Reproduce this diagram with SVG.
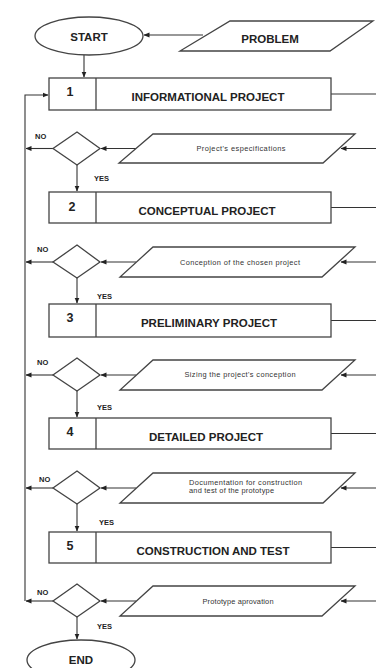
<svg xmlns="http://www.w3.org/2000/svg" width="376" height="668" viewBox="0 0 376 668">
<style>
.s{fill:#fff;stroke:#444;stroke-width:1.3}
.c{fill:none;stroke:#333;stroke-width:1.1}
.b{font-family:"Liberation Sans",Arial,sans-serif;font-weight:bold;fill:#222}
.t{font-family:"Liberation Sans",Arial,sans-serif;fill:#333;font-size:7.4px}
.lb{font-size:11.5px;text-anchor:middle}
.nm{font-size:12.5px;text-anchor:middle}
.sm{font-size:7.5px}
</style>
<defs>
<marker id="a" markerWidth="6" markerHeight="6" refX="5.5" refY="3" orient="auto" markerUnits="userSpaceOnUse">
<path d="M0,0.5 L6,3 L0,5.5 Z" fill="#222"/>
</marker>
</defs>
<rect width="376" height="668" fill="#fff"/>
<g id="connectors">
<line class="c" x1="203" y1="35" x2="144" y2="35" marker-end="url(#a)"/>
<line class="c" x1="84" y1="55" x2="84" y2="77" marker-end="url(#a)"/>
<polyline class="c" points="25,601 25,95 48,95" marker-end="url(#a)"/>
<line class="c" x1="331" y1="94" x2="376" y2="94"/>
<line class="c" x1="331" y1="207.5" x2="376" y2="207.5"/>
<line class="c" x1="331" y1="320.5" x2="376" y2="320.5"/>
<line class="c" x1="331" y1="433.5" x2="376" y2="433.5"/>
<line class="c" x1="331" y1="547.5" x2="376" y2="547.5"/>
<line class="c" x1="376" y1="148.5" x2="341" y2="148.5" marker-end="url(#a)"/>
<line class="c" x1="136" y1="148.5" x2="101" y2="148.5" marker-end="url(#a)"/>
<line class="c" x1="53" y1="148.5" x2="26" y2="148.5" marker-end="url(#a)"/>
<line class="c" x1="77" y1="165" x2="77" y2="191" marker-end="url(#a)"/>
<line class="c" x1="376" y1="262" x2="341" y2="262" marker-end="url(#a)"/>
<line class="c" x1="136" y1="262" x2="101" y2="262" marker-end="url(#a)"/>
<line class="c" x1="53" y1="262" x2="26" y2="262" marker-end="url(#a)"/>
<line class="c" x1="77" y1="278" x2="77" y2="303" marker-end="url(#a)"/>
<line class="c" x1="376" y1="375" x2="341" y2="375" marker-end="url(#a)"/>
<line class="c" x1="136" y1="375" x2="101" y2="375" marker-end="url(#a)"/>
<line class="c" x1="53" y1="375" x2="26" y2="375" marker-end="url(#a)"/>
<line class="c" x1="77" y1="391" x2="77" y2="417" marker-end="url(#a)"/>
<line class="c" x1="376" y1="488" x2="341" y2="488" marker-end="url(#a)"/>
<line class="c" x1="136" y1="488" x2="101" y2="488" marker-end="url(#a)"/>
<line class="c" x1="53" y1="488" x2="26" y2="488" marker-end="url(#a)"/>
<line class="c" x1="77" y1="504" x2="77" y2="531" marker-end="url(#a)"/>
<line class="c" x1="376" y1="601" x2="341" y2="601" marker-end="url(#a)"/>
<line class="c" x1="136" y1="601" x2="101" y2="601" marker-end="url(#a)"/>
<line class="c" x1="53" y1="601" x2="26" y2="601" marker-end="url(#a)"/>
<line class="c" x1="77" y1="617" x2="77" y2="639" marker-end="url(#a)"/>
</g>
<g id="start">
<ellipse class="s" cx="89" cy="36" rx="54" ry="19"/>
<text class="b lb" x="89" y="41" font-size="11">START</text>
</g>
<g id="problem">
<polygon class="s" points="230,21 373,21 330,51 180,51"/>
<text class="b lb" x="270" y="43">PROBLEM</text>
</g>
<g id="step1">
<rect class="s" x="49" y="78" width="282" height="32"/>
<line class="s" x1="96" y1="78" x2="96" y2="110"/>
<text class="b nm" x="70" y="96">1</text>
<text class="b lb" x="208" y="101">INFORMATIONAL PROJECT</text>
</g>
<g id="decision1">
<polygon class="s" points="77,132 100,148.5 77,165 53,148.5"/>
<text class="b sm" x="35" y="139">NO</text>
<text class="b sm" x="94" y="181">YES</text>
</g>
<g id="input1">
<polygon class="s" points="153,134 355,134 323,163 119,163"/>
<text class="t" x="241" y="151" text-anchor="middle" textLength="89">Project's especifications</text>
</g>
<g id="step2">
<rect class="s" x="49" y="192" width="282" height="31"/>
<line class="s" x1="96" y1="192" x2="96" y2="223"/>
<text class="b nm" x="72" y="211">2</text>
<text class="b lb" x="207" y="215">CONCEPTUAL PROJECT</text>
</g>
<g id="decision2">
<polygon class="s" points="77,245 100,262 77,278 53,262"/>
<text class="b sm" x="37" y="252">NO</text>
<text class="b sm" x="97" y="299">YES</text>
</g>
<g id="input2">
<polygon class="s" points="153,247 355,247 322,277 120,277"/>
<text class="t" x="240" y="265" text-anchor="middle" textLength="120">Conception of the chosen project</text>
</g>
<g id="step3">
<rect class="s" x="49" y="304" width="282" height="33"/>
<line class="s" x1="96" y1="304" x2="96" y2="337"/>
<text class="b nm" x="70" y="322">3</text>
<text class="b lb" x="209" y="327">PRELIMINARY PROJECT</text>
</g>
<g id="decision3">
<polygon class="s" points="77,358 100,375 77,391 53,375"/>
<text class="b sm" x="37" y="365">NO</text>
<text class="b sm" x="97" y="410">YES</text>
</g>
<g id="input3">
<polygon class="s" points="153,360 355,360 322,390 120,390"/>
<text class="t" x="240" y="377" text-anchor="middle" textLength="111">Sizing the project's conception</text>
</g>
<g id="step4">
<rect class="s" x="49" y="418" width="282" height="31"/>
<line class="s" x1="96" y1="418" x2="96" y2="449"/>
<text class="b nm" x="70" y="436">4</text>
<text class="b lb" x="206" y="441">DETAILED PROJECT</text>
</g>
<g id="decision4">
<polygon class="s" points="77,471 100,488 77,504 53,488"/>
<text class="b sm" x="39" y="482">NO</text>
<text class="b sm" x="99" y="525">YES</text>
</g>
<g id="input4">
<polygon class="s" points="153,473 355,473 323,503 120,503"/>
<text class="t" x="189" y="485" textLength="113">Documentation for construction</text>
<text class="t" x="189" y="492.5" textLength="85">and test of the prototype</text>
</g>
<g id="step5">
<rect class="s" x="49" y="532" width="282" height="31"/>
<line class="s" x1="96" y1="532" x2="96" y2="563"/>
<text class="b nm" x="70" y="550">5</text>
<text class="b lb" x="213" y="555">CONSTRUCTION AND TEST</text>
</g>
<g id="decision5">
<polygon class="s" points="77,584 100,601 77,617 53,601"/>
<text class="b sm" x="37" y="595">NO</text>
<text class="b sm" x="97" y="629">YES</text>
</g>
<g id="input5">
<polygon class="s" points="153,586 355,586 322,616 120,616"/>
<text class="t" x="238" y="604" text-anchor="middle" textLength="71">Prototype aprovation</text>
</g>
<g id="end">
<ellipse class="s" cx="81" cy="660" rx="54" ry="20"/>
<text class="b lb" x="81" y="664" font-size="12.5">END</text>
</g>
</svg>
